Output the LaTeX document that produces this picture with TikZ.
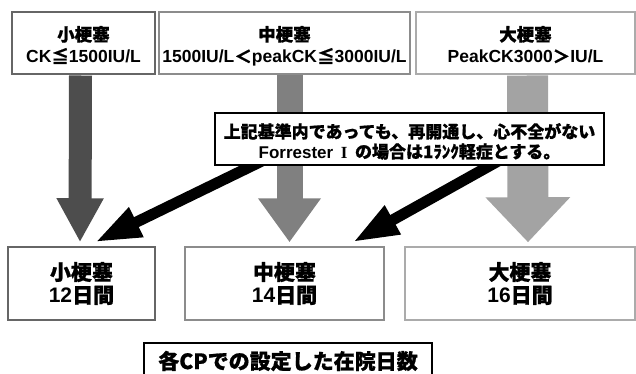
\documentclass[tikz,border=0pt]{standalone}
\usepackage{fontspec}
\setmainfont{Liberation Sans}
\newfontfamily\cjk{Noto Sans CJK JP}[BoldFeatures={FakeBold=0.8}]
\newfontfamily\serifI{Liberation Serif}
\newcommand\jtext[1]{{\cjk #1}}
\usetikzlibrary{arrows.meta}
\definecolor{gA}{HTML}{4D4D4D}
\definecolor{gB}{HTML}{808080}
\definecolor{gC}{HTML}{A3A3A3}
\definecolor{bA}{HTML}{666666}
\definecolor{bB}{HTML}{8C8C8C}
\definecolor{bC}{HTML}{ABABAB}
\begin{document}
\begin{tikzpicture}[x=1pt,y=-1pt,
  box/.style={draw, line width=1.5pt, fill=white, inner sep=0pt, align=center},
  topbox/.style={box, minimum height=62, text height=40pt, text depth=0pt,
    font=\bfseries\fontsize{17.5}{22}\selectfont},
  botbox/.style={box, minimum height=73, font=\bfseries\fontsize{21}{23}\selectfont},
  grayarrow/.style={line cap=butt},
  blackarrow/.style={line width=11pt, black, -{Triangle[length=46pt,width=30pt]}}]
\clip (0,0) rectangle (636,374);
% top boxes
\node[topbox, draw=bA, minimum width=143] (t1) at (83.5,43) {\jtext{小梗塞}\\CK\jtext{≦}1500IU/L};
\node[topbox, draw=bB, minimum width=251] (t2) at (284.5,43) {\jtext{中梗塞}\\1500IU/L\jtext{＜}peakCK\jtext{≦}3000IU/L};
\node[topbox, draw=bC, minimum width=219] (t3) at (525.5,43) {\jtext{大梗塞}\\PeakCK3000\jtext{＞}IU/L};
% bottom boxes
\node[botbox, draw=bA, minimum width=147] (b1) at (81.5,283.5) {\jtext{小梗塞}\\12\jtext{日間}};
\node[botbox, draw=bB, minimum width=199] (b2) at (284.5,283.5) {\jtext{中梗塞}\\14\jtext{日間}};
\node[botbox, draw=bC, minimum width=230] (b3) at (520,283.5) {\jtext{大梗塞}\\16\jtext{日間}};
% gray block arrows
\draw[grayarrow, line width=23pt, gA, -{Triangle[length=44pt,width=44pt]}]
  ([xshift=-3pt,yshift=-0.75pt]t1.south) -- ([xshift=-1.5pt,yshift=4pt]b1.north);
\draw[grayarrow, line width=26pt, gB, -{Triangle[length=44pt,width=60pt]}]
  ([xshift=5pt,yshift=-0.75pt]t2.south) -- ([xshift=5pt,yshift=4pt]b2.north);
\draw[grayarrow, line width=41pt, gC, -{Triangle[length=45pt,width=82pt]}]
  ([xshift=2pt,yshift=-0.75pt]t3.south) -- ([xshift=8pt,yshift=4pt]b3.north);
% black arrows
\coordinate (s1) at (264,160);
\coordinate (s2) at (500,160);
\draw[blackarrow] (s1) -- ([xshift=13.5pt,yshift=4pt]b1.north);
\draw[blackarrow] (s2) -- ([xshift=-32pt,yshift=4pt]b2.north east);
% note box
\node[box, draw=black, line width=2pt, minimum width=389, minimum height=52,
  text height=38pt, text depth=0pt,
  font=\bfseries\fontsize{17}{20}\selectfont] (note) at (409.5,139)
  {\jtext{上記基準内であっても、再開通し、心不全がない}\\Forrester \,{\serifI I}\, \jtext{の場合は1ﾗﾝｸ軽症とする。}};
% bottom label
\node[box, draw=black, minimum width=288, minimum height=36,
  font=\bfseries\fontsize{21}{23}\selectfont] (lab) at (288,361)
  {\jtext{各CPでの設定した在院日数}};
\end{tikzpicture}
\end{document}
